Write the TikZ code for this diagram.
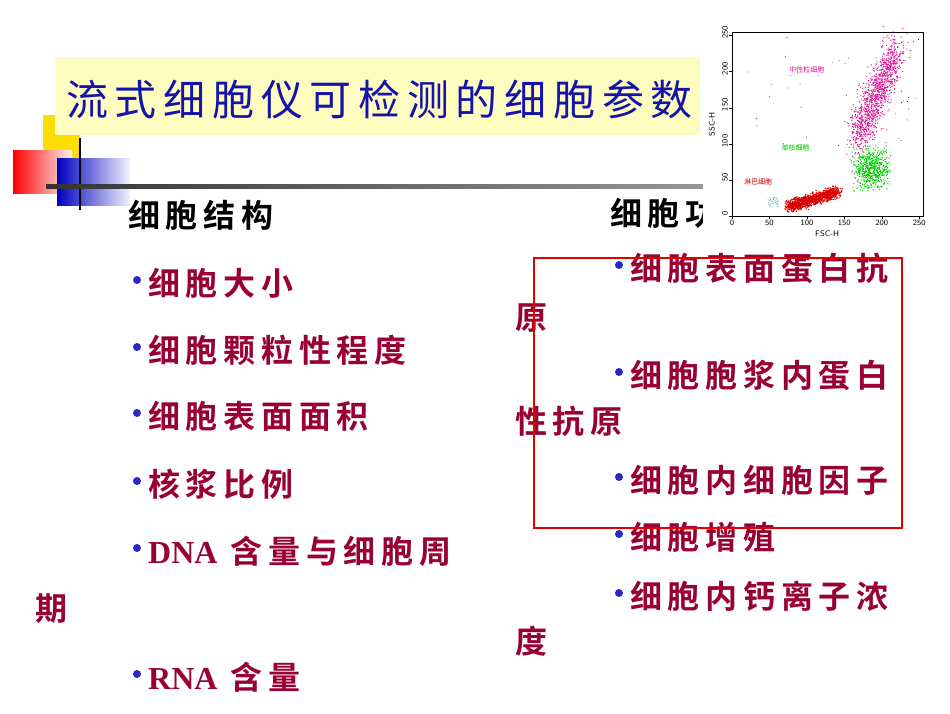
\documentclass[tikz,border=0pt]{standalone}
\usepackage{fontspec}
\newfontfamily\cjk[LetterSpace=16]{Noto Sans CJK SC}
\newfontfamily\cjkplain{Noto Sans CJK SC}
\newfontfamily\cjkb[LetterSpace=18]{Noto Sans CJK SC Bold}
\newfontfamily\latb{Liberation Serif Bold}
\setmainfont{Liberation Serif}
\usetikzlibrary{shadings}
\definecolor{itemred}{RGB}{153,0,51}
\definecolor{bulblue}{RGB}{40,40,200}
\definecolor{titleblue}{RGB}{20,20,170}
\definecolor{pink}{RGB}{220,20,150}
\begin{document}
\begin{tikzpicture}[x=1pt,y=-1pt,
  itm/.style={anchor=west,inner sep=0,text=itemred,font=\cjkb\fontsize{32}{34}\selectfont},
  hd/.style={anchor=west,inner sep=0,text=black,font=\cjkb\fontsize{32}{34}\selectfont},
  bul/.style={circle,fill=bulblue,inner sep=0,minimum size=8pt}]
\useasboundingbox[fill=white] (0,0) rectangle (950,713);
% decoration
\fill[yellow!80!orange] (43,115) rectangle (80,160);
\shade[left color=red, right color=red!5] (72,150) rectangle (13,193);
\shade[left color=blue!75!black, right color=blue!5] (57,158) rectangle (130,205);
\fill[yellow!80!orange] (43,115) rectangle (72,150);
\draw[line width=1.5pt] (80,138) -- (80,210);
\shade[left color=black!80, right color=black!40] (46,184.5) rectangle (720,188);
% title
\fill[yellow!25] (55,57) rectangle (700,135);
\node[anchor=west,inner sep=0,text=titleblue,font=\cjk\fontsize{42}{44}\selectfont] (title) at (66,99) {流式细胞仪可检测的细胞参数};
% left column
\node[hd] (lh) at (128,215) {细胞结构};
\foreach \y/\t [count=\i] in {283/细胞大小,350/细胞颗粒性程度,416/细胞表面面积,484/核浆比例,551/{{\latb\fontsize{32}{34}\selectfont DNA} 含量与细胞周}} {
  \node[bul] (lb\i) at (137,\y-3) {};
  \node[itm] (l\i) at (148,\y) {\t};
}
\node[itm] (l6) at (35,609) {期};
\node[bul] (lb7) at (137,674) {};
\node[itm] (l7) at (148,677) {{\latb\fontsize{32}{34}\selectfont RNA} 含量};
% right column
\node[hd] (rh) at (610,213) {细胞功能};
\foreach \y/\t [count=\i] in {268/细胞表面蛋白抗,375/细胞胞浆内蛋白,480/细胞内细胞因子,537/细胞增殖,596/细胞内钙离子浓} {
  \node[bul] (rb\i) at (619,\y-3) {};
  \node[itm] (r\i) at (630,\y) {\t};
}
\node[itm] (r6) at (515,318) {原};
\node[itm] (r7) at (515,421) {性抗原};
\node[itm] (r8) at (515,641) {度};
\draw[red!90!black,line width=1.5pt] (534,258) rectangle (902,528);
% scatter plot
\fill[white] (703,25) rectangle (935,250);
\begin{scope}[shift={(732,216)},x=0.749pt,y=0.722pt]
  \pgfmathsetseed{7}
  \foreach \i in {1,...,1200} {
    \pgfmathsetmacro\t{rnd}
    \fill[pink] ({165+55*\t+10*(rand+rand)},{105+125*\t+18*(rand+rand)}) circle (0.9);
  }
  \foreach \i in {1,...,600} {
    \fill[green!80!black] ({185+14*(rand+rand)},{65+16*(rand+rand)}) circle (0.9);
  }
  \foreach \i in {1,...,1000} {
    \pgfmathsetmacro\t{rnd}
    \fill[red!85!black] ({75+65*\t+5*(rand+rand)},{13+20*\t+5*(rand+rand)}) circle (1.1);
  }
  \foreach \i in {1,...,40} {
    \fill[cyan!70!black] ({55+7*rand},{20+7*rand}) circle (0.6);
  }
  \foreach \i in {1,...,50} {
    \fill[black] ({20+230*rnd},{90+160*rnd}) circle (0.6);
  }
  \draw (0,0) rectangle (255,255);
  \foreach \v in {0,50,...,250} {
    \draw (\v,0) -- (\v,-4);
    \node[font=\fontsize{8}{9}\selectfont\sffamily,anchor=north,inner sep=1pt] (xt\v) at (\v,-4) {\v};
    \draw (0,\v) -- (-4,\v);
    \node[font=\fontsize{8}{9}\selectfont\sffamily,anchor=south,rotate=90,inner sep=1pt] (yt\v) at (-4,\v+4) {\v};
  }
  \node[font=\fontsize{8}{9}\selectfont\sffamily,inner sep=0] (fsc) at (127,-25) {FSC-H};
  \node[font=\fontsize{8}{9}\selectfont\sffamily,rotate=90,inner sep=0] (ssc) at (-27,127) {SSC-H};
  \node[font=\cjkplain\fontsize{7}{8}\selectfont,text=pink,inner sep=0] (n1) at (100,202) {中性粒细胞};
  \node[font=\cjkplain\fontsize{7}{8}\selectfont,text=green!80!black,inner sep=0] (n2) at (85,95) {单核细胞};
  \node[font=\cjkplain\fontsize{7}{8}\selectfont,text=red!75!black,inner sep=0] (n3) at (35,48) {淋巴细胞};
\end{scope}
\end{tikzpicture}
\end{document}
